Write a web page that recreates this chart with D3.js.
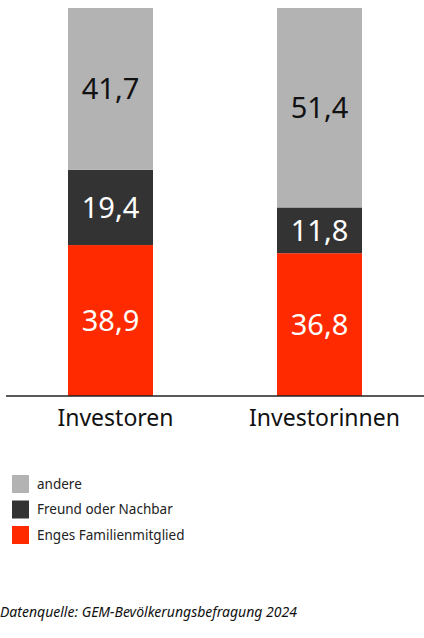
<!DOCTYPE html>
<html lang="de">
<head>
  <meta charset="UTF-8">
  <title>Investoren nach Beziehung</title>
  <script src="https://d3js.org/d3.v7.min.js"></script>
  <style>
    body { margin: 0; background: #fff; font-family: 'Noto Sans', sans-serif; }
  </style>
</head>
<body>
<div id="chart"></div>
<script>
    // data
    const categories = ["Investoren", "Investorinnen"];
    const seriesNames = ["Enges Familienmitglied", "Freund oder Nachbar", "andere"];
    const familie = [38.9, 36.8];
    const freund = [19.4, 11.8];
    const andere = [41.7, 51.4];
    const legendOrder = ["andere", "Freund oder Nachbar", "Enges Familienmitglied"];
    const source = "Datenquelle: GEM-Bevölkerungsbefragung 2024";

    const width = 424, height = 638;
    const baseY = 396, topY = 8;

    const svg = d3.select("#chart")
        .append("svg")
        .attr("width", width)
        .attr("height", height);

    const color = d3.scaleOrdinal()
        .domain(seriesNames)
        .range(["#ff2a00", "#333333", "#b3b3b3"]);
    const labelColor = d3.scaleOrdinal()
        .domain(seriesNames)
        .range(["#ffffff", "#ffffff", "#111111"]);

    const x = d3.scaleBand()
        .domain(categories)
        .range([68, 362])
        .paddingInner(0.5933)
        .paddingOuter(0);

    const y = d3.scaleLinear()
        .domain([0, 100])
        .range([baseY, topY]);

    const table = categories.map((c, i) => ({
        cat: c,
        "Enges Familienmitglied": familie[i],
        "Freund oder Nachbar": freund[i],
        "andere": andere[i]
    }));

    const stacked = d3.stack().keys(seriesNames)(table);

    const layer = svg.append("g")
        .selectAll("g")
        .data(stacked)
        .join("g")
        .attr("fill", d => color(d.key));

    layer.selectAll("rect")
        .data(d => d.map(p => Object.assign(p, { key: d.key })))
        .join("rect")
        .attr("x", d => x(d.data.cat))
        .attr("width", x.bandwidth())
        .attr("y", d => y(d[1]))
        .attr("height", d => y(d[0]) - y(d[1]));

    layer.selectAll("text")
        .data(d => d)
        .join("text")
        .attr("x", d => x(d.data.cat) + x.bandwidth() / 2)
        .attr("y", d => (y(d[0]) + y(d[1])) / 2)
        .attr("dy", "0.36em")
        .attr("text-anchor", "middle")
        .style("font-size", "29px")
        .style("fill", d => labelColor(d.key))
        .text(d => d3.format(".1f")(d[1] - d[0]).replace(".", ","));

    // baseline
    svg.append("line")
        .attr("x1", 6).attr("x2", 424)
        .attr("y1", baseY).attr("y2", baseY)
        .attr("stroke", "#222")
        .attr("stroke-width", 1.6);

    // category labels
    svg.append("g")
        .selectAll("text")
        .data(categories)
        .join("text")
        .attr("x", d => x(d) + x.bandwidth() / 2 + 5)
        .attr("y", 426)
        .attr("text-anchor", "middle")
        .style("font-size", "23px")
        .style("fill", "#111")
        .text(d => d);

    // legend
    const legend = svg.append("g")
        .attr("transform", "translate(12, 475)");

    const items = legend.selectAll("g")
        .data(legendOrder)
        .join("g")
        .attr("transform", (d, i) => `translate(0, ${i * 25.5})`);

    items.append("rect")
        .attr("width", 17)
        .attr("height", 18)
        .attr("fill", d => color(d));

    items.append("text")
        .attr("x", 25)
        .attr("y", 13.5)
        .style("font-size", "13.5px")
        .style("fill", "#222")
        .text(d => d);

    // source
    svg.append("text")
        .attr("x", 0)
        .attr("y", 617)
        .style("font-size", "14px")
        .style("font-style", "italic")
        .style("fill", "#111")
        .text(source);
</script>
</body>
</html>
